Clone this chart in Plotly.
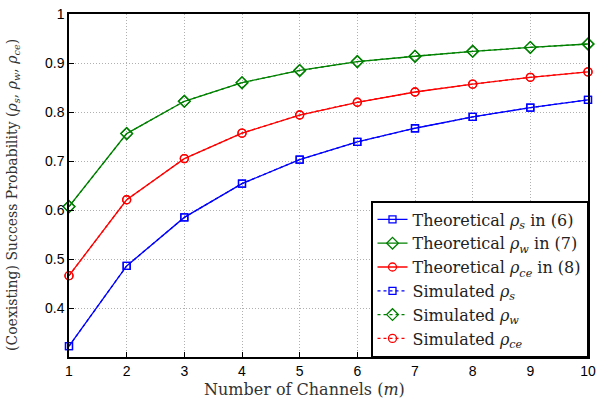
import plotly.graph_objects as go

channels = [1, 2, 3, 4, 5, 6, 7, 8, 9, 10]
rho_s = [0.322, 0.486, 0.585, 0.654, 0.703, 0.739, 0.767, 0.790, 0.809, 0.825]
rho_w = [0.607, 0.756, 0.822, 0.860, 0.885, 0.903, 0.914, 0.924, 0.932, 0.939]
rho_ce = [0.466, 0.621, 0.705, 0.757, 0.794, 0.820, 0.841, 0.857, 0.871, 0.882]
sim_rho_s = [0.322, 0.486, 0.585, 0.654, 0.703, 0.739, 0.767, 0.790, 0.809, 0.825]
sim_rho_w = [0.607, 0.756, 0.822, 0.860, 0.885, 0.903, 0.914, 0.924, 0.932, 0.939]
sim_rho_ce = [0.466, 0.621, 0.705, 0.757, 0.794, 0.820, 0.841, 0.857, 0.871, 0.882]
ytick_vals = [0.4, 0.5, 0.6, 0.7, 0.8, 0.9, 1.0]
ytick_text = ["0.4", "0.5", "0.6", "0.7", "0.8", "0.9", "1"]

BLUE = "#0000ff"
GREEN = "#008000"
RED = "#ff0000"
SERIF = "DejaVu Serif"
SANS = "Liberation Sans"

fig = go.Figure()

def add(y, color, symbol, size, name, dash):
    fig.add_trace(go.Scatter(
        x=channels, y=y, mode="lines+markers", name=name,
        line=dict(color=color, width=1.3, dash=dash),
        marker=dict(symbol=symbol, size=size, color=color,
                    line=dict(color=color, width=1.3)),
        cliponaxis=False,
    ))

add(rho_s, BLUE, "square-open", 7, "Theoretical <i>ρ<sub>s</sub></i> in (6)", "solid")
add(rho_w, GREEN, "diamond-open", 9, "Theoretical <i>ρ<sub>w</sub></i> in (7)", "solid")
add(rho_ce, RED, "circle-open", 8, "Theoretical <i>ρ<sub>ce</sub></i> in (8)", "solid")
add(sim_rho_s, BLUE, "square-open", 7, "Simulated <i>ρ<sub>s</sub></i>", "dot")
add(sim_rho_w, GREEN, "diamond-open", 9, "Simulated <i>ρ<sub>w</sub></i>", "dot")
add(sim_rho_ce, RED, "circle-open", 8, "Simulated <i>ρ<sub>ce</sub></i>", "dot")

axis_common = dict(
    showgrid=True, gridcolor="#b0b0b0", griddash="1px,2px", gridwidth=1,
    showline=True, linecolor="black", linewidth=1.5, mirror=True,
    ticks="inside", ticklen=5, tickcolor="black", zeroline=False,
)

fig.update_layout(
    width=602, height=405,
    margin=dict(l=69, r=12, t=6, b=48),
    paper_bgcolor="white", plot_bgcolor="white",
    font=dict(family=SANS, size=14, color="black"),
    showlegend=True,
    legend=dict(
        x=1, y=0, xanchor="right", yanchor="bottom",
        bgcolor="white", bordercolor="black", borderwidth=1.5,
        font=dict(family=SERIF, size=16, color="#222222"),
        itemwidth=30, tracegroupgap=0,
    ),
    xaxis=dict(range=[1, 10], tickvals=channels, **axis_common),
    yaxis=dict(range=[0.3, 1.0002], tickvals=ytick_vals, ticktext=ytick_text, **axis_common),
    annotations=[
        dict(text="Number of Channels (<i>m</i>)", xref="paper", yref="paper",
             x=(305 - 69) / (590 - 69), y=-(390 - 357) / (357 - 6),
             xanchor="center", yanchor="middle", showarrow=False,
             font=dict(family=SERIF, size=16, color="#333333")),
        dict(text="(Coexisting) Success Probability (<i>ρ<sub>s</sub></i>, <i>ρ<sub>w</sub></i>, <i>ρ<sub>ce</sub></i>)",
             xref="paper", yref="paper", textangle=-90,
             x=-(69 - 13) / (590 - 69), y=(357 - 191) / (357 - 6),
             xanchor="center", yanchor="middle", showarrow=False,
             font=dict(family=SERIF, size=14, color="#333333")),
    ],
)

fig.write_html("out.html", config={"displayModeBar": False},
               post_script="document.body.style.margin='0';document.body.style.padding='0';")
